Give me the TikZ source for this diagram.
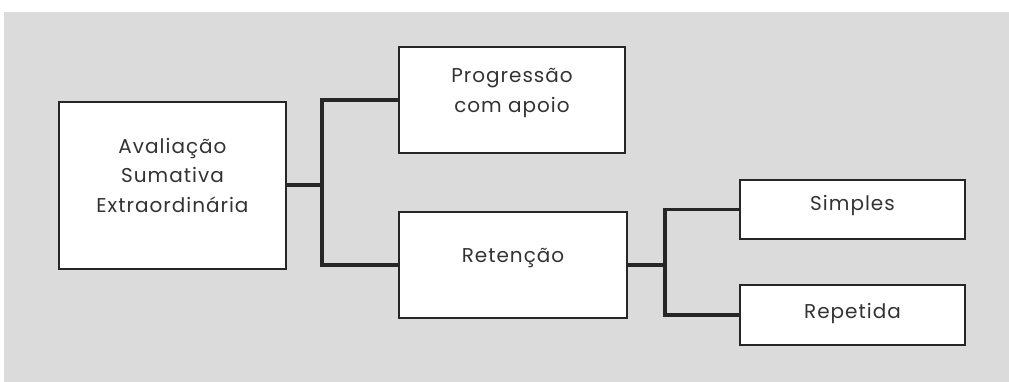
\documentclass[tikz,border=0pt]{standalone}
\usepackage{fontspec}
\setmainfont[LetterSpace=5]{Poppins}
\usepackage{tikz}

\tikzset{
    box/.style={draw=black!85, line width=1.5pt, fill=white, align=center,
        text=black!80, font=\fontsize{20}{29.5}\selectfont, inner sep=0pt},
    lift/.style={text depth=#1},
    link/.style={draw=black!85, line width=3.5pt, line join=miter}
}

\begin{document}
\begin{tikzpicture}[x=1pt,y=-1pt]
    \useasboundingbox (0,0) rectangle (1009,382);
    \fill[white] (0,0) rectangle (1009,382);
    \fill[black!14] (4,12) rectangle (1009,382);

    \node[box, lift=21pt, minimum width=227pt, minimum height=167pt] (aval) at (172.5,185.5)
        {Avaliação\\Sumativa\\Extraordinária};
    \node[box, lift=19pt, minimum width=226pt, minimum height=106pt] (prog) at (512,100)
        {Progressão\\com apoio};
    \node[box, lift=19pt, minimum width=228pt, minimum height=106pt] (ret) at (513,265)
        {Retenção};
    \node[box, lift=13pt, minimum width=225pt, minimum height=59pt] (simp) at (852.5,209.5)
        {Simples};
    \node[box, lift=9pt, minimum width=225pt, minimum height=60pt] (rep) at (852.5,315)
        {Repetida};

    % first fork
    \coordinate (fa) at (322,185);
    \draw[link] (aval.east |- fa) -- (fa);
    \draw[link] (prog.west) -| (fa) |- (ret.west);

    % second fork
    \coordinate (fb) at (665,265);
    \draw[link] (ret.east |- fb) -- (fb);
    \draw[link] (simp.west) -| (fb) |- (rep.west);
\end{tikzpicture}
\end{document}
